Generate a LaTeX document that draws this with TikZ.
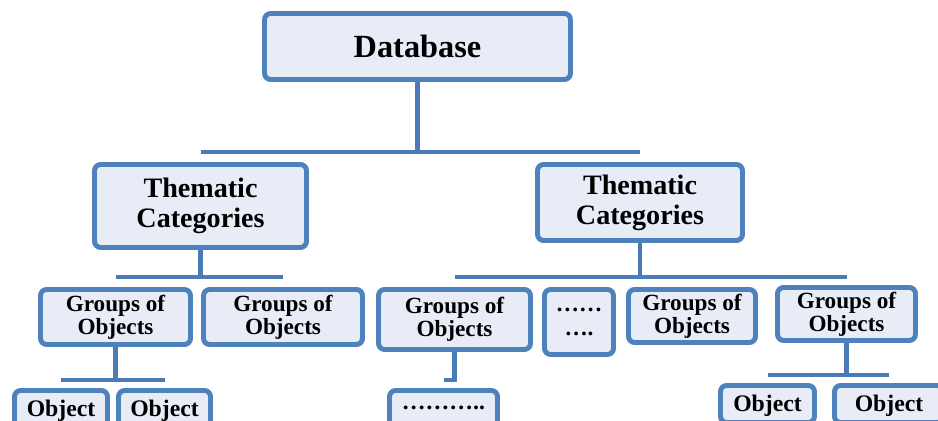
\documentclass[tikz,border=0pt]{standalone}
\usepackage{fontspec}
\setmainfont{Liberation Serif}
\usepackage{xcolor}
\usetikzlibrary{positioning,calc}
\definecolor{boxblue}{HTML}{4F81BD}
\definecolor{boxfill}{HTML}{E7ECF6}
\definecolor{linkblue}{HTML}{4A7BB7}

\begin{document}
\begin{tikzpicture}[x=0.02cm, y=-0.02cm,
    box/.style={draw=boxblue, fill=boxfill, line width=2.8pt, rounded corners=3.5pt, align=center, inner sep=0pt},
    topbox/.style={box, font=\bfseries\fontsize{18.4}{20}\selectfont},
    catbox/.style={box, font=\bfseries\fontsize{16}{17}\selectfont},
    grpbox/.style={box, font=\bfseries\fontsize{13.2}{13.2}\selectfont},
    objbox/.style={box, font=\bfseries\fontsize{13.5}{14}\selectfont, text depth=1pt},
    link/.style={draw=linkblue, line width=2.6pt}]
    \useasboundingbox (0,0) rectangle (938,421);
    \clip (0,0) rectangle (938,421);

    % Top level
    \node[topbox, minimum width=6.12cm, minimum height=1.32cm] (db) at (417.5,46.5) {Database};

    % Thematic categories
    \node[catbox, minimum width=4.24cm, minimum height=1.66cm] (tc1) at (200.5,206) {Thematic\\Categories};
    \node[catbox, minimum width=4.10cm, minimum height=1.52cm] (tc2) at (640,202.5) {Thematic\\Categories};

    % Groups of objects
    \node[grpbox, minimum width=3.00cm, minimum height=1.10cm] (g1) at (115.5,317) {Groups of\\Objects};
    \node[grpbox, minimum width=3.18cm, minimum height=1.10cm] (g2) at (283,317) {Groups of\\Objects};
    \node[grpbox, minimum width=3.04cm, minimum height=1.20cm] (g3) at (454.5,319.5) {Groups of\\Objects};
    \node[grpbox, minimum width=1.38cm, minimum height=1.30cm] (dd1) at (579,322) {……\\….};
    \node[grpbox, minimum width=2.54cm, minimum height=1.06cm] (g4) at (692,316) {Groups of\\Objects};
    \node[grpbox, minimum width=2.76cm, minimum height=1.06cm] (g5) at (846.5,314) {Groups of\\Objects};

    % Objects
    \node[objbox, minimum width=1.86cm, minimum height=0.74cm] (o1) at (61,409) {Object};
    \node[objbox, minimum width=1.84cm, minimum height=0.74cm] (o2) at (164.5,409) {Object};
    \node[objbox, minimum width=2.16cm, minimum height=0.74cm] (dd2) at (443.5,409) {………..};
    \node[objbox, minimum width=1.88cm, minimum height=0.74cm] (o3) at (767.5,404) {Object};
    \node[objbox, minimum width=2.18cm, minimum height=0.74cm] (o4) at (889,404) {Object};

    % Bar levels
    \coordinate (bar1) at (0,152);
    \coordinate (bar2) at (0,277);
    \coordinate (bar3) at (0,380);
    \coordinate (bar4) at (0,375);

    % Database branch
    \draw[link] (db.south) -- (db.south |- bar1);
    \draw[link] (tc1.north |- bar1) -- (tc2.north |- bar1);

    % Left category
    \draw[link] (tc1.south) -- (tc1.south |- bar2);
    \draw[link] (g1.north |- bar2) -- (g2.north |- bar2);
    \draw[link] (g1.south) -- (g1.south |- bar3);
    \draw[link] (o1.north |- bar3) -- (o2.north |- bar3);

    % Right category
    \draw[link] (tc2.south) -- (tc2.south |- bar2);
    \draw[link] (g3.north |- bar2) -- (g5.north |- bar2);
    \draw[link] (g3.south) -- (g3.south |- bar3) -- (dd2.north |- bar3);
    \draw[link] (g5.south) -- (g5.south |- bar4);
    \draw[link] (o3.north |- bar4) -- (o4.north |- bar4);
\end{tikzpicture}
\end{document}
